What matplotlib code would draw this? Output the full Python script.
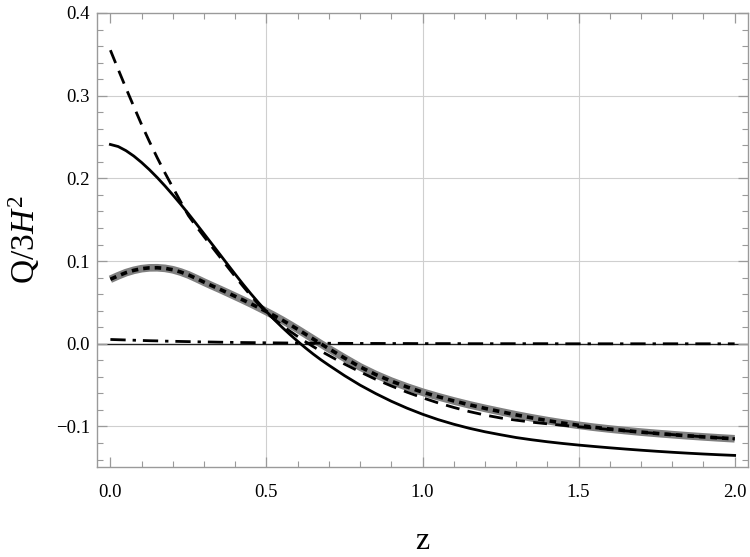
import numpy as np
import matplotlib
matplotlib.use("Agg")
import matplotlib.pyplot as plt
from matplotlib.ticker import MultipleLocator, FixedLocator

# ---- data ----
z = [0.0, 0.025, 0.05, 0.075, 0.1, 0.125, 0.15, 0.175, 0.2, 0.225, 0.25, 0.275,
     0.3, 0.325, 0.35, 0.375, 0.4, 0.425, 0.45, 0.475, 0.5, 0.525, 0.55, 0.575,
     0.6, 0.625, 0.65, 0.675, 0.7,
     0.75, 0.8, 0.85, 0.9, 0.95, 1.0, 1.05, 1.1, 1.15, 1.2, 1.25, 1.3, 1.35,
     1.4, 1.45, 1.5, 1.55, 1.6, 1.65, 1.7, 1.75, 1.8, 1.85, 1.9, 1.95, 2.0]

solid = [0.2410, 0.2385, 0.2335, 0.2270, 0.2192, 0.2105, 0.2010, 0.1908, 0.1800,
         0.1688, 0.1572, 0.1452, 0.1330, 0.1208, 0.1085, 0.0962, 0.0840, 0.0720,
         0.0605, 0.0495, 0.0390, 0.0292, 0.0200, 0.0113, 0.0030, -0.0050, -0.0125,
         -0.0195, -0.0260,
         -0.0385, -0.0500, -0.0602, -0.0695, -0.0778, -0.0852, -0.0917, -0.0973,
         -0.1022, -0.1064, -0.1100, -0.1134, -0.1161, -0.1185, -0.1206, -0.1225,
         -0.1242, -0.1258, -0.1273, -0.1287, -0.1300, -0.1312, -0.1323, -0.1333,
         -0.1342, -0.1350]

dashed = [0.3550, 0.3318, 0.3090, 0.2868, 0.2650, 0.2445, 0.2250, 0.2065, 0.1890,
          0.1718, 0.1550, 0.1420, 0.1296, 0.1174, 0.1053, 0.0932, 0.0812, 0.0695,
          0.0582, 0.0476, 0.0378, 0.0298, 0.0224, 0.0153, 0.0088, 0.0025, -0.0035,
          -0.0090, -0.0142,
          -0.0245, -0.0340, -0.0430, -0.0510, -0.0585, -0.0653, -0.0715, -0.0770,
          -0.0820, -0.0862, -0.0897, -0.0924, -0.0948, -0.0968, -0.0986, -0.1003,
          -0.1020, -0.1037, -0.1053, -0.1069, -0.1084, -0.1098, -0.1112, -0.1125,
          -0.1137, -0.1149]

gray = [0.0780, 0.0822, 0.0860, 0.0888, 0.0908, 0.0918, 0.0919, 0.0912, 0.0895,
        0.0868, 0.0833, 0.0790, 0.0745, 0.0702, 0.0660, 0.0617, 0.0573, 0.0529,
        0.0484, 0.0437, 0.0389, 0.0339, 0.0287, 0.0232, 0.0175, 0.0116, 0.0057,
        -0.0002, -0.0060,
        -0.0172, -0.0280, -0.0372, -0.0452, -0.0522, -0.0585, -0.0640, -0.0691,
        -0.0738, -0.0781, -0.0821, -0.0860, -0.0896, -0.0929, -0.0959, -0.0986,
        -0.1010, -0.1031, -0.1050, -0.1068, -0.1084, -0.1099, -0.1113, -0.1126,
        -0.1138, -0.1149]

dashdot = [0.0052, 0.0049, 0.0046, 0.0043, 0.0040, 0.0037, 0.0035, 0.0032, 0.0030,
           0.0028, 0.0026, 0.0024, 0.0022, 0.0021, 0.0019, 0.0018, 0.0016, 0.0015,
           0.0014, 0.0013, 0.0012, 0.0011, 0.0010, 0.0009, 0.0009, 0.0008, 0.0007,
           0.0007, 0.0006,
           0.0005, 0.0004, 0.0004, 0.0003, 0.0003, 0.0002, 0.0002, 0.0002, 0.0001,
           0.0001, 0.0001, 0.0001, 0.0001, 0.0001, 0.0, 0.0, 0.0, 0.0, 0.0, 0.0,
           0.0, 0.0, 0.0, 0.0, 0.0, 0.0]

xticks = [0.0, 0.5, 1.0, 1.5, 2.0]
xticklabels = ['0.0', '0.5', '1.0', '1.5', '2.0']
yticks = [-0.1, 0.0, 0.1, 0.2, 0.3, 0.4]
yticklabels = ['\u22120.1', '0.0', '0.1', '0.2', '0.3', '0.4']

plt.rcParams['font.family'] = ['Liberation Serif', 'DejaVu Serif']
plt.rcParams['mathtext.fontset'] = 'custom'
plt.rcParams['mathtext.rm'] = 'Liberation Serif'
plt.rcParams['mathtext.it'] = 'Liberation Serif:italic'

fig = plt.figure(figsize=(7.5, 5.57), dpi=100)
ax = fig.add_axes([0.1293, 0.1616, 0.8677, 0.8151])

frame_col = '#9a9a9a'
grid_col = '#cfcfcf'

# grid lines
for x in [0.5, 1.0, 1.5]:
    ax.axvline(x, color=grid_col, lw=0.8, zorder=0)
for y in [-0.1, 0.1, 0.2, 0.3]:
    ax.axhline(y, color=grid_col, lw=0.8, zorder=0)
ax.axhline(0.0, color='#222222', lw=1.0, zorder=1)

ax.plot(z, gray, color='#808080', lw=5.5, solid_capstyle='butt',
        solid_joinstyle='round', zorder=2)
ax.plot(z, gray, color='black', lw=2.6, linestyle=(0, (1.8, 1.4)), zorder=3)
ax.plot(z, dashdot, color='black', lw=2.0, linestyle=(0, (5.5, 2.5, 1.2, 2.5)), zorder=3)
ax.plot(z, dashed, color='black', lw=2.0, linestyle=(0, (5, 3)), zorder=3)
ax.plot(z, solid, color='black', lw=2.0, solid_joinstyle='round', zorder=3)

ax.set_xlim(-0.043, 2.042)
ax.set_ylim(-0.149, 0.4)

ax.xaxis.set_major_locator(FixedLocator(xticks))
ax.yaxis.set_major_locator(FixedLocator(yticks))
ax.xaxis.set_minor_locator(MultipleLocator(0.1))
ax.yaxis.set_minor_locator(MultipleLocator(0.02))
ax.set_xticklabels(xticklabels)
ax.set_yticklabels(yticklabels)

ax.tick_params(which='both', direction='in', top=True, right=True, color=frame_col,
               labelsize=13.5, labelcolor='black')
ax.tick_params(which='major', length=7, width=0.9)
ax.tick_params(which='minor', length=4, width=0.8)
ax.tick_params(axis='x', which='major', pad=12)
ax.tick_params(axis='y', which='major', pad=5)

for sp in ax.spines.values():
    sp.set_color(frame_col)
    sp.set_linewidth(1.0)

ax.set_xlabel('z', fontsize=23, labelpad=19)
ax.set_ylabel(r'Q/3$H^2$', fontsize=24, labelpad=10)

fig.savefig('out.png', dpi=100)
